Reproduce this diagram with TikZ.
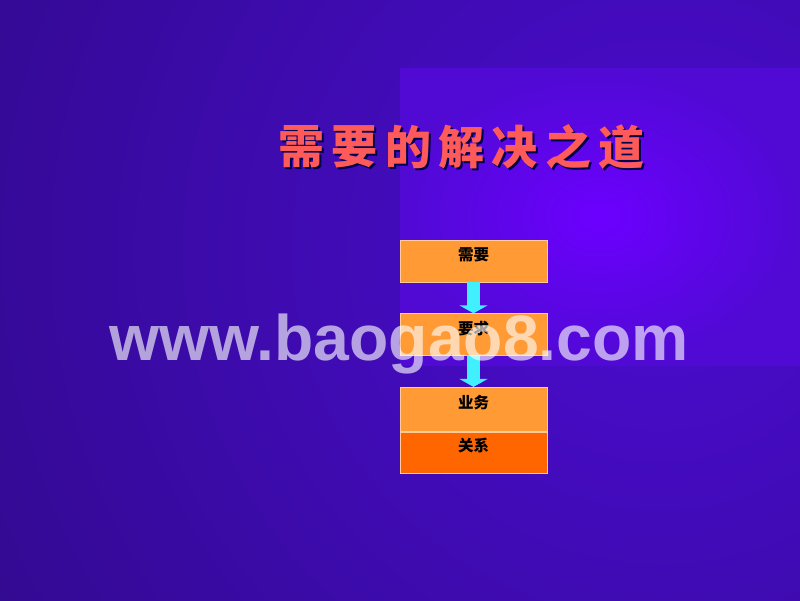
\documentclass[tikz,border=0pt]{standalone}
\usepackage{fontspec}
\usepackage{tikz}
\usetikzlibrary{positioning,arrows.meta}
\newfontfamily\cjk{Noto Sans CJK SC}
\newfontfamily\webfont{Liberation Sans}
\definecolor{bgin}{HTML}{4A0CD0}
\definecolor{bgout}{HTML}{1E0858}
\definecolor{panelin}{HTML}{6C00FF}
\definecolor{panelout}{HTML}{500AD4}
\definecolor{titlered}{HTML}{FF5A5A}
\definecolor{boxorange}{HTML}{FF9A35}
\definecolor{boxdeep}{HTML}{FF6600}
\definecolor{flowcyan}{HTML}{40F0FF}

\begin{document}
\begin{tikzpicture}[%
    x=1pt,y=-1pt,node distance=31pt,
    stepbox/.style={%
      rectangle,minimum width=147pt,minimum height=42pt,fill=boxorange,
      draw=orange!40!white,line width=0.6pt,text height=11pt,text depth=12pt,
      font=\cjk\bfseries\fontsize{15.5}{15.5}\selectfont},
    flow/.style={%
      flowcyan,line width=13pt,-{Triangle[width=28pt,length=8pt]}}
  ]
    \useasboundingbox (0,0) rectangle (800,600);
    % background
    \begin{scope}
      \clip (0,0) rectangle (800,600);
      \shade[inner color=bgin,outer color=bgout] (660,250) circle (1450);
      \shade[inner color=panelin,outer color=panelout] (400,68) rectangle (800,365);
    \end{scope}
    % title
    \foreach \ch [count=\i from 0] in {需,要,的,解,决,之,道} {
      \node[text=black!70!blue,font=\cjk\bfseries\fontsize{46}{46}\selectfont]
        at (303.6+53.3*\i,149) {\ch};
      \node[text=titlered,font=\cjk\bfseries\fontsize{46}{46}\selectfont]
        (t\i) at (301.6+53.3*\i,147) {\ch};
    }
    % chain
    \node[stepbox] (need) at (473.5,261)        {需要};
    \node[stepbox] (req)  [below=of need]       {要求};
    \node[stepbox,minimum height=44pt] (biz) [below=of req] {业务};
    \node[stepbox,fill=boxdeep,minimum height=41pt] (rel) [below=0pt of biz] {关系};
    \draw[flow] (need.south) -- (req.north);
    \draw[flow] (req.south)  -- (biz.north);
    % watermark
    \node[anchor=base,text=white,text opacity=0.62,
      font=\webfont\bfseries\fontsize{64.3}{64.3}\selectfont] (mark) at (399,360) {www.baogao8.com};
\end{tikzpicture}
\end{document}
